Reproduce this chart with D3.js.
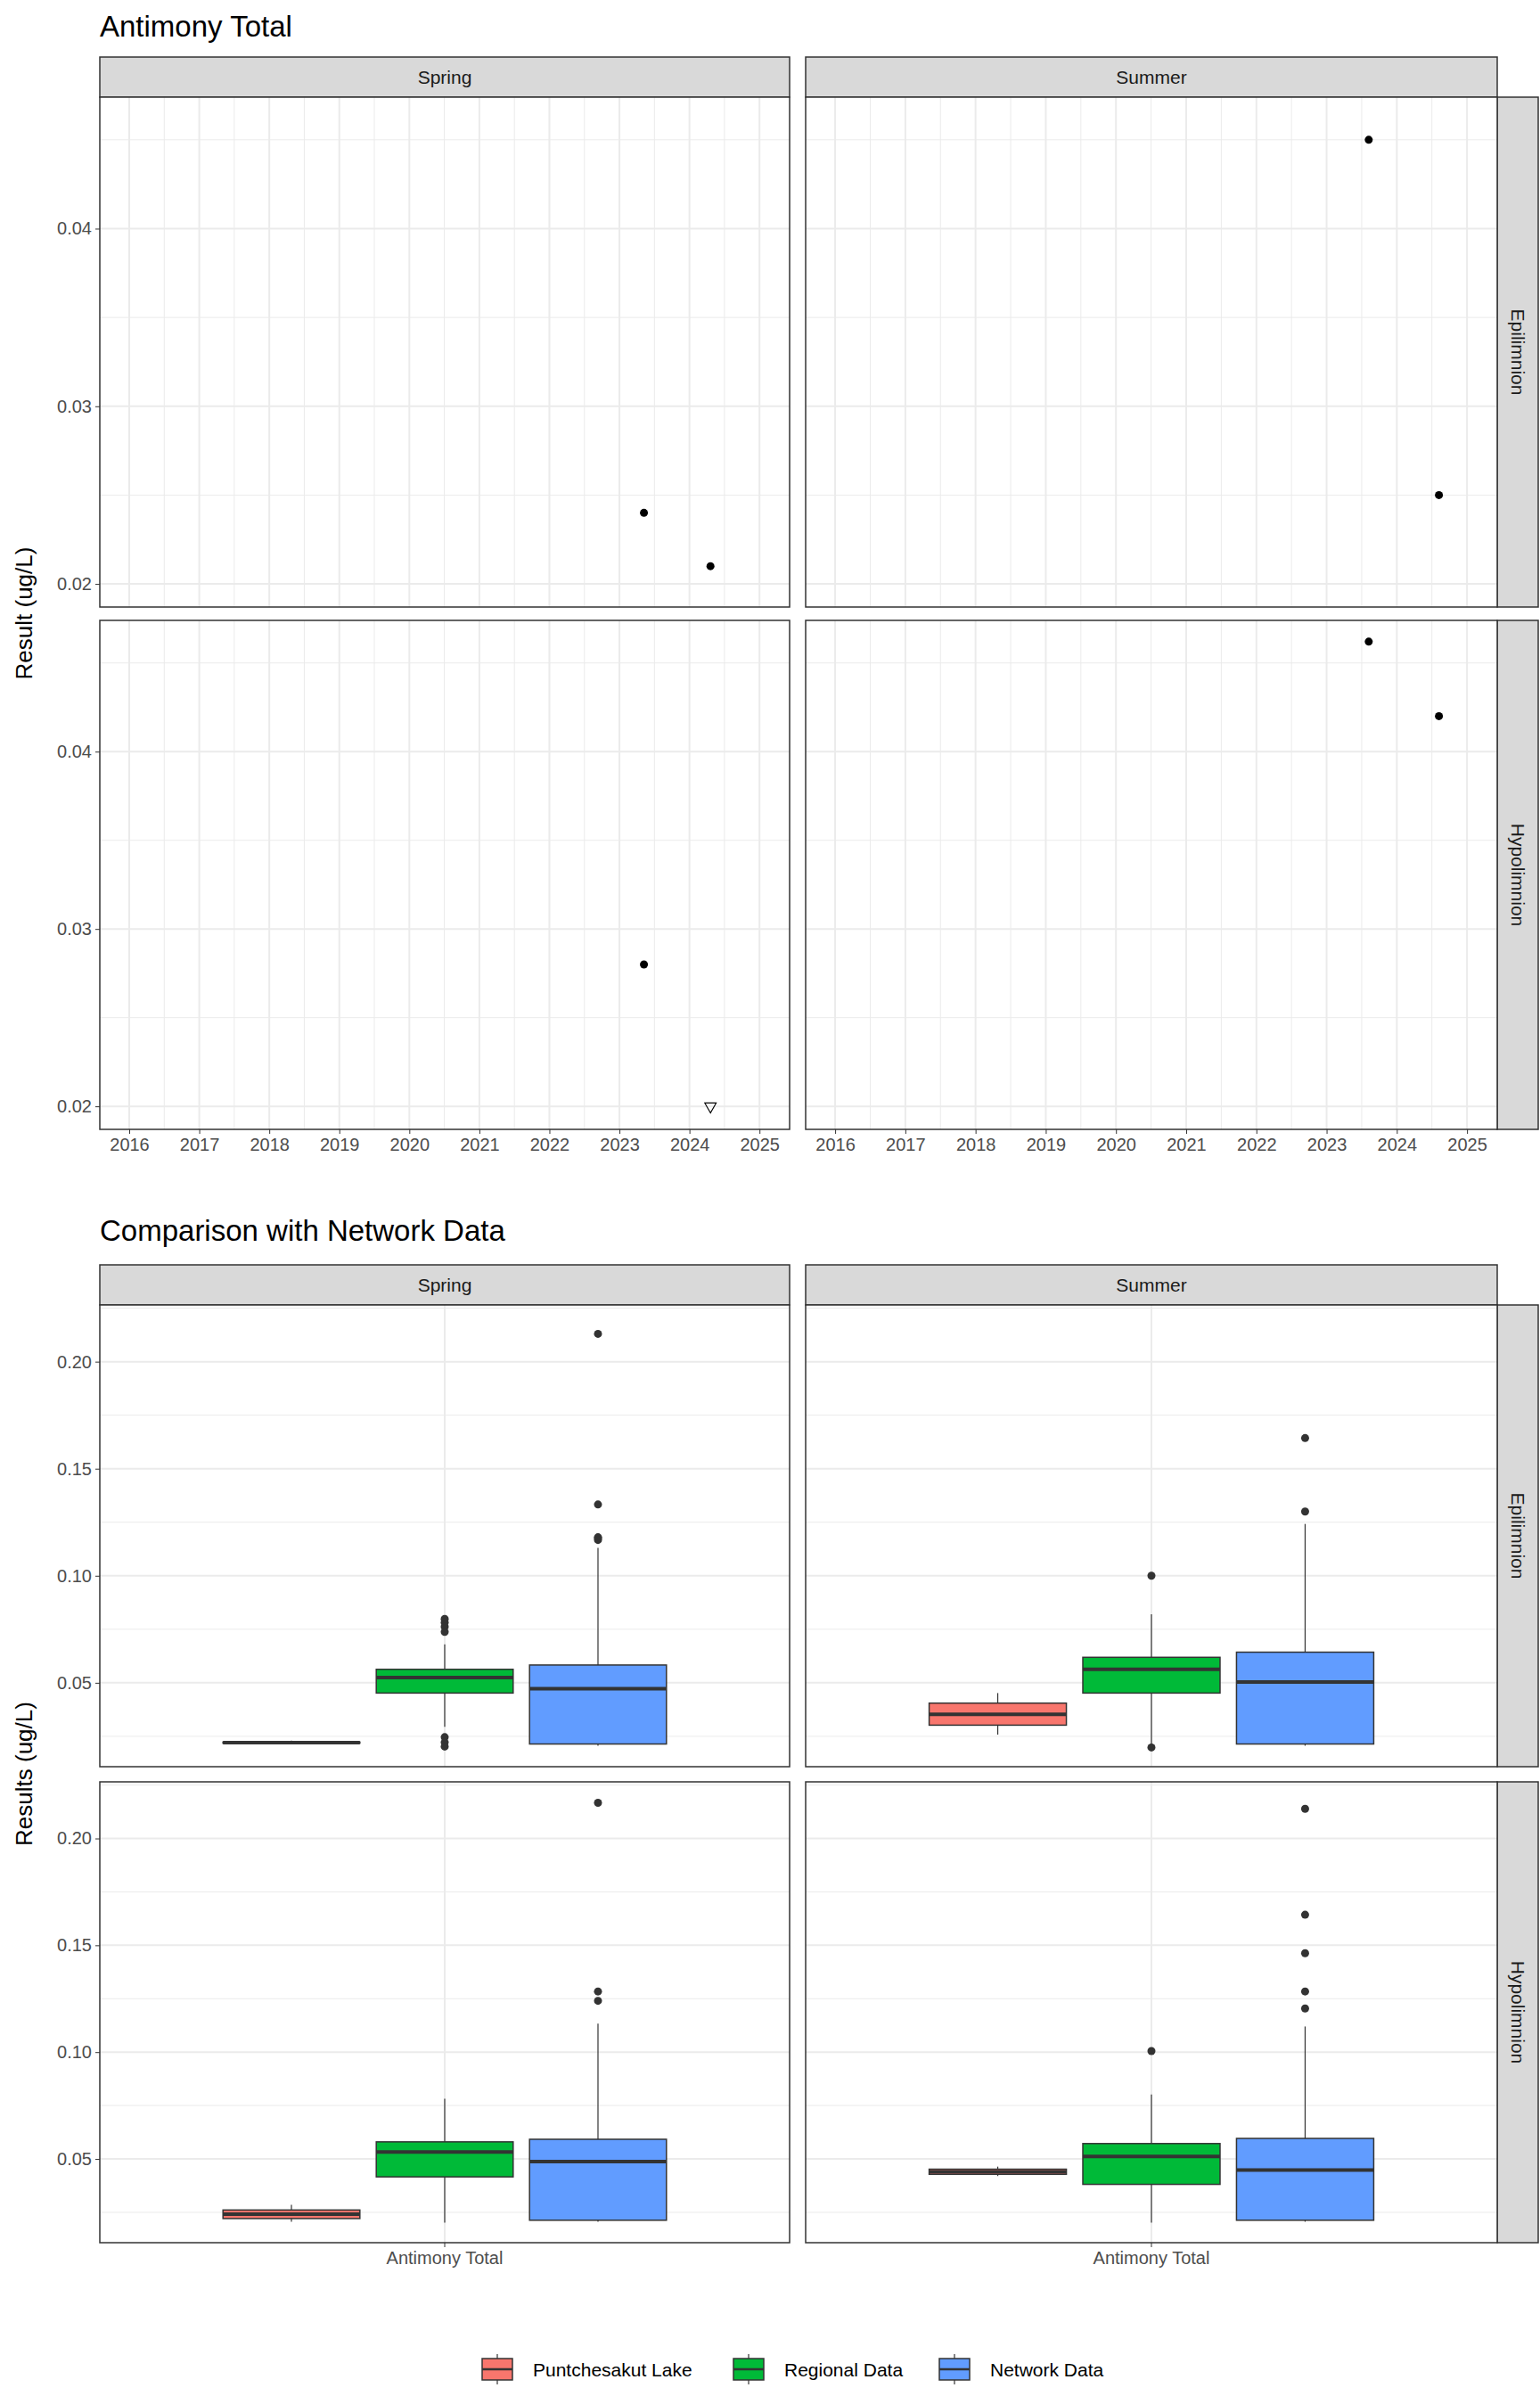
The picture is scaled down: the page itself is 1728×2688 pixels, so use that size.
<!DOCTYPE html>
<html><head><meta charset="utf-8">
<script src="https://cdn.jsdelivr.net/npm/d3@7"></script>
<style>body{margin:0;background:#fff}text{font-family:"Liberation Sans",Arial,sans-serif}</style>
</head><body><svg id="c" width="1728" height="2688"></svg>
<script>
const seasons=["Spring","Summer"];
const depths=["Epilimnion","Hypolimnion"];
const years=[2016,2017,2018,2019,2020,2021,2022,2023,2024,2025];
const yTicksTop=[0.02,0.03,0.04];
const yTicksBot=[0.05,0.10,0.15,0.20];
// points: [season, depth, year(decimal), value, detected]
const pts=[
 ["Spring","Epilimnion",2023.35,0.024,true],["Spring","Epilimnion",2024.3,0.021,true],
 ["Summer","Epilimnion",2023.6,0.045,true],["Summer","Epilimnion",2024.6,0.025,true],
 ["Spring","Hypolimnion",2023.35,0.028,true],["Spring","Hypolimnion",2024.3,0.020,false],
 ["Summer","Hypolimnion",2023.6,0.0462,true],["Summer","Hypolimnion",2024.6,0.042,true]];
const groups=["Puntchesakut Lake","Regional Data","Network Data"];
const colors=["#F8766D","#00BA38","#619CFF"];
// boxes: [season, depth, group, lowWhisk, q1, median, q3, highWhisk, outliers]
const boxes=[
 ["Spring","Epilimnion",0,0.0215,0.0218,0.022,0.0223,0.023,[]],
 ["Spring","Epilimnion",1,0.0294,0.0452,0.0524,0.0563,0.068,[0.0798,0.0782,0.0762,0.0738,0.0246,0.0222,0.0202]],
 ["Spring","Epilimnion",2,0.0206,0.0214,0.0472,0.0583,0.113,[0.1167,0.1175,0.118,0.1333,0.213]],
 ["Summer","Epilimnion",0,0.0258,0.0302,0.0353,0.0405,0.0452,[]],
 ["Summer","Epilimnion",1,0.020,0.0452,0.0563,0.0619,0.082,[0.1,0.0198]],
 ["Summer","Epilimnion",2,0.0206,0.0214,0.0504,0.0643,0.1242,[0.130,0.1643]],
 ["Spring","Hypolimnion",0,0.0206,0.0221,0.0241,0.0261,0.0285,[]],
 ["Spring","Hypolimnion",1,0.0202,0.0416,0.0532,0.058,0.0782,[]],
 ["Spring","Hypolimnion",2,0.0206,0.0213,0.0488,0.0592,0.1133,[0.124,0.1284,0.2167]],
 ["Summer","Hypolimnion",0,0.042,0.0428,0.044,0.0452,0.0464,[]],
 ["Summer","Hypolimnion",1,0.0202,0.0381,0.0512,0.0572,0.0802,[0.1005]],
 ["Summer","Hypolimnion",2,0.0206,0.0213,0.0448,0.0596,0.112,[0.1204,0.1284,0.1463,0.1643,0.2139]]];

const svg=d3.select("#c");
const colX={Spring:[112,886],Summer:[904,1680]};
const dark="#333";
function strip(x0,x1,y0,y1,label,vertical){
  svg.append("rect").attr("x",x0).attr("y",y0).attr("width",x1-x0).attr("height",y1-y0).attr("fill","#d9d9d9").attr("stroke",dark).attr("stroke-width",1.5);
  const t=svg.append("text").attr("font-size",21).attr("fill","#1a1a1a").attr("text-anchor","middle").attr("dominant-baseline","central").text(label);
  if(vertical) t.attr("transform",`translate(${(x0+x1)/2},${(y0+y1)/2}) rotate(90)`);
  else t.attr("x",(x0+x1)/2).attr("y",(y0+y1)/2);
}
function title(txt,y){svg.append("text").attr("x",112).attr("y",y).attr("font-size",33).attr("fill","#000").text(txt);}
function ytitle(txt,y){svg.append("text").attr("transform",`translate(36,${y}) rotate(-90)`).attr("text-anchor","middle").attr("font-size",26).text(txt);}

// ---- Top chart
title("Antimony Total",41);
const rowsTop={Epilimnion:[109,681],Hypolimnion:[696,1267]};
seasons.forEach(s=>strip(colX[s][0],colX[s][1],64,109,s,false));
depths.forEach(d=>strip(1680,1726,rowsTop[d][0],rowsTop[d][1],d,true));
seasons.forEach(s=>depths.forEach(d=>{
  const [x0,x1]=colX[s],[y0,y1]=rowsTop[d];
  const x=d3.scaleLinear().domain([2015.58,2025.43]).range([x0,x1]);
  const y=d3.scaleLinear().domain([0.0187,0.0474]).range([y1,y0]);
  const g=svg.append("g");
  g.append("rect").attr("x",x0).attr("y",y0).attr("width",x1-x0).attr("height",y1-y0).attr("fill","#fff");
  d3.range(2015.5,2025.6,1).forEach(v=>{if(x(v)>x0&&x(v)<x1)g.append("line").attr("x1",x(v)).attr("x2",x(v)).attr("y1",y0).attr("y2",y1).attr("stroke","#ebebeb").attr("stroke-width",1)});
  [0.025,0.035,0.045].forEach(v=>g.append("line").attr("x1",x0).attr("x2",x1).attr("y1",y(v)).attr("y2",y(v)).attr("stroke","#ebebeb").attr("stroke-width",1));
  years.forEach(v=>g.append("line").attr("x1",x(v)).attr("x2",x(v)).attr("y1",y0).attr("y2",y1).attr("stroke","#ebebeb").attr("stroke-width",2));
  yTicksTop.forEach(v=>g.append("line").attr("x1",x0).attr("x2",x1).attr("y1",y(v)).attr("y2",y(v)).attr("stroke","#ebebeb").attr("stroke-width",2));
  pts.filter(p=>p[0]===s&&p[1]===d).forEach(p=>{
    if(p[4]) g.append("circle").attr("cx",x(p[2])).attr("cy",y(p[3])).attr("r",4.5).attr("fill","#000");
    else g.append("path").attr("d",d3.symbol(d3.symbolTriangle,70)()).attr("transform",`translate(${x(p[2])},${y(p[3])}) rotate(180)`).attr("fill","none").attr("stroke","#000").attr("stroke-width",1.2);
  });
  g.append("rect").attr("x",x0).attr("y",y0).attr("width",x1-x0).attr("height",y1-y0).attr("fill","none").attr("stroke",dark).attr("stroke-width",1.5);
  if(s==="Spring"){
    const ax=svg.append("g").attr("transform",`translate(${x0},0)`).call(d3.axisLeft(y).tickValues(yTicksTop).tickFormat(d3.format(".2f")).tickSize(5).tickPadding(4));
    ax.select(".domain").remove();ax.selectAll("line").attr("stroke",dark);ax.selectAll("text").attr("font-size",20).attr("fill","#4d4d4d").attr("font-family","Liberation Sans");
  }
  if(d==="Hypolimnion"){
    const ax=svg.append("g").attr("transform",`translate(0,${y1})`).call(d3.axisBottom(x).tickValues(years).tickFormat(d3.format("d")).tickSize(5).tickPadding(5));
    ax.select(".domain").remove();ax.selectAll("line").attr("stroke",dark);ax.selectAll("text").attr("font-size",20).attr("fill","#4d4d4d").attr("font-family","Liberation Sans");
  }
}));
ytitle("Result (ug/L)",688);

// ---- Bottom chart
title("Comparison with Network Data",1392);
const rowsBot={Epilimnion:[1464,1982],Hypolimnion:[1999,2516]};
seasons.forEach(s=>strip(colX[s][0],colX[s][1],1419,1464,s,false));
depths.forEach(d=>strip(1680,1726,rowsBot[d][0],rowsBot[d][1],d,true));
seasons.forEach(s=>depths.forEach(d=>{
  const [x0,x1]=colX[s],[y0,y1]=rowsBot[d];
  const xb=d3.scaleBand().domain(["Antimony Total"]).range([x0,x1]).padding(0.4);
  const xg=d3.scaleBand().domain([0,1,2]).range([0,xb.bandwidth()*1.5]).paddingInner(0.107);
  const xc=xb("Antimony Total")+xb.bandwidth()/2;
  const off=xc-xg.range()[1]/2;
  const y=d3.scaleLinear().domain([0.0108,0.2265]).range([y1,y0]);
  const g=svg.append("g");
  g.append("rect").attr("x",x0).attr("y",y0).attr("width",x1-x0).attr("height",y1-y0).attr("fill","#fff");
  [0.025,0.075,0.125,0.175,0.225].forEach(v=>g.append("line").attr("x1",x0).attr("x2",x1).attr("y1",y(v)).attr("y2",y(v)).attr("stroke","#ebebeb").attr("stroke-width",1));
  yTicksBot.forEach(v=>g.append("line").attr("x1",x0).attr("x2",x1).attr("y1",y(v)).attr("y2",y(v)).attr("stroke","#ebebeb").attr("stroke-width",2));
  g.append("line").attr("x1",xc).attr("x2",xc).attr("y1",y0).attr("y2",y1).attr("stroke","#ebebeb").attr("stroke-width",2);
  boxes.filter(b=>b[0]===s&&b[1]===d).forEach(b=>{
    const bx=off+xg(b[2]),bw=xg.bandwidth(),cx=bx+bw/2;
    g.append("line").attr("x1",cx).attr("x2",cx).attr("y1",y(b[3])).attr("y2",y(b[7])).attr("stroke",dark).attr("stroke-width",1.2);
    g.append("rect").attr("x",bx).attr("y",y(b[6])).attr("width",bw).attr("height",Math.max(0,y(b[4])-y(b[6]))).attr("fill",colors[b[2]]).attr("stroke",dark).attr("stroke-width",1.5);
    g.append("line").attr("x1",bx).attr("x2",bx+bw).attr("y1",y(b[5])).attr("y2",y(b[5])).attr("stroke",dark).attr("stroke-width",4);
    b[8].forEach(o=>g.append("circle").attr("cx",cx).attr("cy",y(o)).attr("r",4.5).attr("fill",dark));
  });
  g.append("rect").attr("x",x0).attr("y",y0).attr("width",x1-x0).attr("height",y1-y0).attr("fill","none").attr("stroke",dark).attr("stroke-width",1.5);
  if(s==="Spring"){
    const ax=svg.append("g").attr("transform",`translate(${x0},0)`).call(d3.axisLeft(y).tickValues(yTicksBot).tickFormat(d3.format(".2f")).tickSize(5).tickPadding(4));
    ax.select(".domain").remove();ax.selectAll("line").attr("stroke",dark);ax.selectAll("text").attr("font-size",20).attr("fill","#4d4d4d").attr("font-family","Liberation Sans");
  }
  if(d==="Hypolimnion"){
    const ax=svg.append("g").attr("transform",`translate(0,${y1})`).call(d3.axisBottom(xb).tickSize(5).tickPadding(5));
    ax.select(".domain").remove();ax.selectAll("line").attr("stroke",dark);ax.selectAll("text").attr("font-size",20).attr("fill","#4d4d4d").attr("font-family","Liberation Sans");
  }
}));
ytitle("Results (ug/L)",1990);

// legend
const legX=[541,823,1054];
groups.forEach((gname,i)=>{
  const lx=legX[i],ly=2658;
  svg.append("line").attr("x1",lx+17).attr("x2",lx+17).attr("y1",ly-17).attr("y2",ly+17).attr("stroke",dark).attr("stroke-width",1.2);
  svg.append("rect").attr("x",lx).attr("y",ly-12).attr("width",34).attr("height",24).attr("fill",colors[i]).attr("stroke",dark).attr("stroke-width",1.5);
  svg.append("line").attr("x1",lx).attr("x2",lx+34).attr("y1",ly).attr("y2",ly).attr("stroke",dark).attr("stroke-width",2.5);
  svg.append("text").attr("x",lx+57).attr("y",ly).attr("dominant-baseline","central").attr("font-size",21).text(gname);
});
</script></body></html>
